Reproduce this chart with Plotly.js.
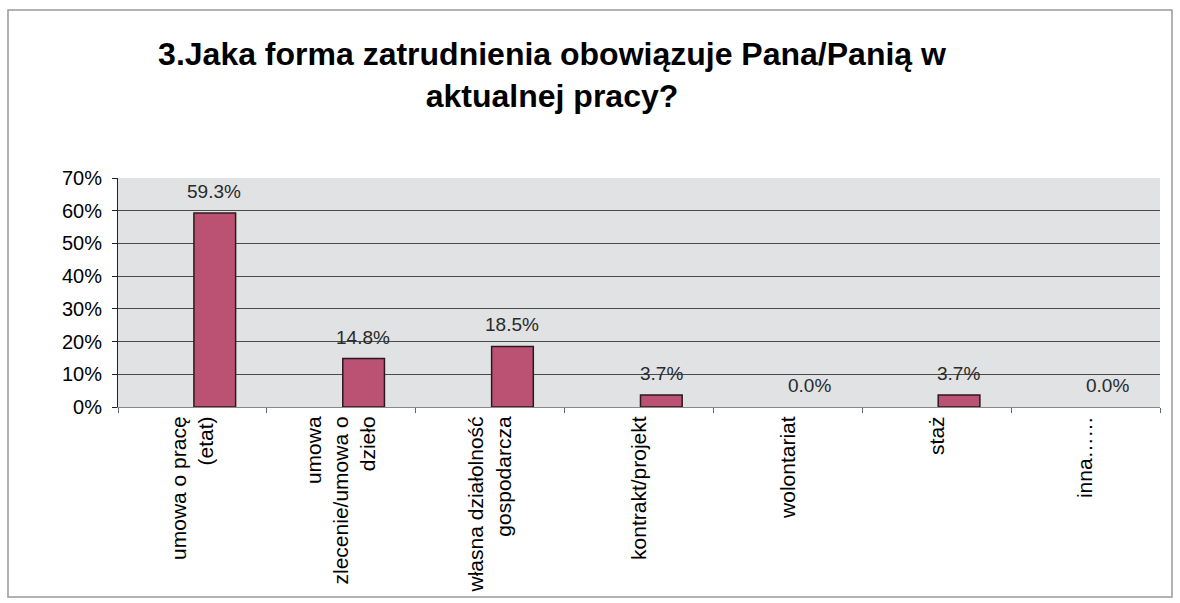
<!DOCTYPE html>
<html><head><meta charset="utf-8">
<script src="https://cdn.plot.ly/plotly-3.0.1.min.js"></script>
<style>html,body{margin:0;padding:0;background:#fff;}#chart{width:1180px;height:603px;}</style>
</head><body><div id="chart"></div>
<script>
const categories = [
  "umowa o pracę<br>(etat)",
  "umowa<br>zlecenie/umowa o<br>dzieło",
  "własna działolność<br>gospodarcza",
  "kontrakt/projekt",
  "wolontariat",
  "staż",
  "inna……"
];
const values = [59.3, 14.8, 18.5, 3.7, 0.0, 3.7, 0.0];
const valueLabels = ["59.3%", "14.8%", "18.5%", "3.7%", "0.0%", "3.7%", "0.0%"];
const yTickVals = [0, 10, 20, 30, 40, 50, 60, 70];
const yTickText = ["0%", "10%", "20%", "30%", "40%", "50%", "60%", "70%"];
const titleText = "3.Jaka forma zatrudnienia obowiązuje Pana/Panią w<br>aktualnej pracy?";

const font = "Liberation Sans, Arial, sans-serif";

const trace = {
  type: "bar",
  x: categories,
  y: values,
  width: 0.28,
  offset: 0.01,
  marker: {color: "#bb5274", line: {color: "#2a1a1e", width: values.map(v => v > 0 ? 1.5 : 0)}},
  hoverinfo: "none"
};

const annotations = categories.map((c, i) => ({
  x: c, y: values[i], xref: "x", yref: "y",
  text: valueLabels[i], showarrow: false,
  xanchor: "center", yanchor: "bottom",
  xshift: 22, yshift: 9,
  font: {family: font, size: 19, color: "#2a2a2a"}
}));

const layout = {
  width: 1180, height: 603,
  paper_bgcolor: "#ffffff",
  plot_bgcolor: "#e0e2e4",
  margin: {l: 118, r: 20, t: 178, b: 196},
  showlegend: false,
  title: {
    text: titleText,
    font: {family: font, size: 32, color: "#000", weight: "bold"},
    x: 0.4165, xanchor: "center", xref: "paper",
    y: 0.892, yanchor: "top"
  },
  xaxis: {
    type: "category",
    tickangle: -90,
    tickson: "boundaries",
    ticks: "outside", ticklen: 5, tickcolor: "#666",
    showline: true, linecolor: "#888", linewidth: 1,
    showgrid: false,
    tickfont: {family: font, size: 21, color: "#000"},
    automargin: false
  },
  yaxis: {
    range: [0, 70],
    tickvals: yTickVals, ticktext: yTickText,
    ticks: "outside", ticklen: 5, tickcolor: "#222",
    ticklabelstandoff: 6,
    showline: true, linecolor: "#222", linewidth: 1,
    showgrid: true, gridcolor: "#4a4a4a", gridwidth: 1.2,
    zeroline: false,
    tickfont: {family: font, size: 20, color: "#000"},
    automargin: false
  },
  annotations: annotations,
  shapes: [{
    type: "rect", xref: "paper", yref: "paper",
    x0: -110/1042, x1: 1172/1042 - 118/1042, y0: -190/229, y1: (407-10)/229,
    line: {color: "#999", width: 1.5}
  }]
};

Plotly.newPlot("chart", [trace], layout, {displayModeBar: false, staticPlot: true});
</script></body></html>
